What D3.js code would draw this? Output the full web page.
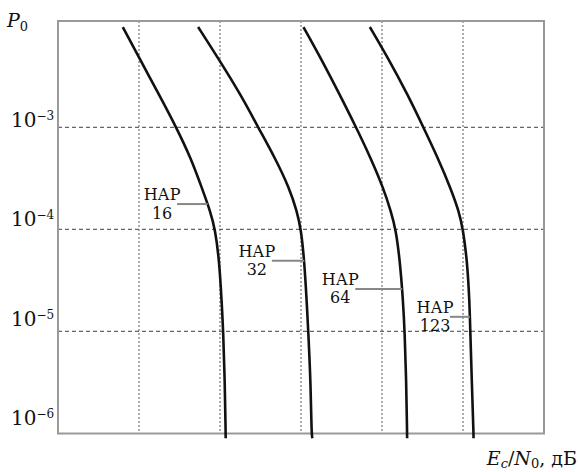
<!DOCTYPE html>
<html>
<head>
<meta charset="utf-8">
<script src="https://cdn.jsdelivr.net/npm/d3@7"></script>
<style>
  body { margin: 0; background: #fff; }
  text { font-family: "DejaVu Serif", serif; fill: #111; }
</style>
</head>
<body>
<div id="chart"></div>
<script>
// error probability levels shared by all curves
var pLevels = [9.6e-3, 5e-3, 2e-3, 1e-3, 5e-4, 2.5e-4, 1.5e-4, 1e-4, 5e-5, 2e-5, 1e-5, 3e-6, 1e-6, 9e-7];

// Ec/N0 (grid units) for each array size
var ebno16  = [0.80, 0.99, 1.26, 1.46, 1.64, 1.78, 1.88, 1.94, 1.99, 2.02, 2.04, 2.06, 2.07, 2.07];
var ebno32  = [1.73, 1.96, 2.27, 2.47, 2.68, 2.86, 2.95, 3.00, 3.04, 3.07, 3.09, 3.12, 3.13, 3.14];
var ebno64  = [3.03, 3.23, 3.49, 3.68, 3.86, 4.02, 4.11, 4.17, 4.22, 4.26, 4.28, 4.30, 4.31, 4.31];
var ebno123 = [3.85, 4.06, 4.33, 4.51, 4.69, 4.85, 4.95, 5.00, 5.05, 5.08, 5.09, 5.11, 5.13, 5.13];

var arraySizes = ["16", "32", "64", "123"];
var yTicks = [1e-3, 1e-4, 1e-5, 1e-6];
var yTickExp = ["−3", "−4", "−5", "−6"];
var xGrid = [1, 2, 3, 4, 5];

// where each label's leader line sits
var labelP = [1.77e-4, 4.93e-5, 2.61e-5, 1.39e-5];
var labelX = [1.47, 2.64, 3.67, 4.84];

var series = [ebno16, ebno32, ebno64, ebno123];

var svg = d3.select("#chart")
  .append("svg")
  .attr("width", 578)
  .attr("height", 472);

var x = d3.scaleLinear().domain([0, 6]).range([58, 544]);
var y = d3.scaleLog().domain([1e-6, 1.1e-2]).range([433.5, 21]);
// tick labels in the original drift a bit above the grid lines
var yLab = d3.scaleLog().domain([1e-6, 1e-3]).range([425, 127]);

// grid
svg.append("g")
  .selectAll("line")
  .data(xGrid)
  .enter()
  .append("line")
  .attr("x1", d => x(d)).attr("x2", d => x(d))
  .attr("y1", y.range()[1]).attr("y2", y.range()[0])
  .attr("stroke", "#888")
  .attr("stroke-width", 1.4)
  .attr("stroke-dasharray", "2,2");

svg.append("g")
  .selectAll("line")
  .data(yTicks.slice(0, 3))
  .enter()
  .append("line")
  .attr("x1", x(0)).attr("x2", x(6))
  .attr("y1", d => y(d)).attr("y2", d => y(d))
  .attr("stroke", "#666")
  .attr("stroke-width", 1.3)
  .attr("stroke-dasharray", "4,3");

// frame
svg.append("rect")
  .attr("x", x(0)).attr("y", y.range()[1])
  .attr("width", x(6) - x(0))
  .attr("height", y.range()[0] - y.range()[1])
  .attr("fill", "none")
  .attr("stroke", "#999")
  .attr("stroke-width", 2);

// y tick labels
var tl = svg.append("g")
  .selectAll("text")
  .data(yTicks)
  .enter()
  .append("text")
  .attr("x", 11)
  .attr("y", d => yLab(d))
  .attr("font-size", 20);
tl.append("tspan").text("10");
tl.append("tspan")
  .attr("font-size", 12)
  .attr("dy", -7)
  .text((d, i) => yTickExp[i]);

// curves
var line = d3.line()
  .x(d => x(d[0]))
  .y(d => y(d[1]))
  .curve(d3.curveBasis);

svg.append("g")
  .selectAll("path")
  .data(series)
  .enter()
  .append("path")
  .attr("d", s => line(s.map((v, i) => [v, pLevels[i]])))
  .attr("fill", "none")
  .attr("stroke", "#111")
  .attr("stroke-width", 2.6);

// x position of a curve at a given P (log interpolation)
function curveAt(s, p) {
  var lp = Math.log10(p);
  for (var i = 0; i < pLevels.length - 1; i++) {
    var a = Math.log10(pLevels[i]), b = Math.log10(pLevels[i + 1]);
    if (lp <= a && lp >= b) {
      return s[i] + (s[i + 1] - s[i]) * (a - lp) / (a - b);
    }
  }
  return s[s.length - 1];
}

// labels with leader lines
var lab = svg.append("g")
  .selectAll("g")
  .data(arraySizes)
  .enter()
  .append("g");

lab.append("line")
  .attr("x1", (d, i) => x(labelX[i]))
  .attr("x2", (d, i) => x(curveAt(series[i], labelP[i])))
  .attr("y1", (d, i) => y(labelP[i]))
  .attr("y2", (d, i) => y(labelP[i]))
  .attr("stroke", "#888")
  .attr("stroke-width", 2);

lab.append("text")
  .attr("x", (d, i) => x(labelX[i]) - 15)
  .attr("y", (d, i) => y(labelP[i]) - 4)
  .attr("text-anchor", "middle")
  .attr("font-size", 16)
  .text("НАР");

lab.append("text")
  .attr("x", (d, i) => x(labelX[i]) - 15)
  .attr("y", (d, i) => y(labelP[i]) + 14.5)
  .attr("text-anchor", "middle")
  .attr("font-size", 16)
  .text(d => d);

// axis titles
var yt = svg.append("text")
  .attr("x", 7).attr("y", 27)
  .attr("font-size", 19);
yt.append("tspan").attr("font-style", "italic").text("P");
yt.append("tspan").attr("font-size", 13).attr("dy", 4).text("0");

var xt = svg.append("text")
  .attr("x", 577).attr("y", 465)
  .attr("text-anchor", "end")
  .attr("font-size", 19);
xt.append("tspan").attr("font-style", "italic").text("E");
xt.append("tspan").attr("font-size", 13).attr("dy", 3).attr("font-style", "italic").text("с");
xt.append("tspan").attr("dy", -3).text("/");
xt.append("tspan").attr("font-style", "italic").text("N");
xt.append("tspan").attr("font-size", 13).attr("dy", 3).text("0");
xt.append("tspan").attr("dy", -3).text(", дБ");
</script>
</body>
</html>
